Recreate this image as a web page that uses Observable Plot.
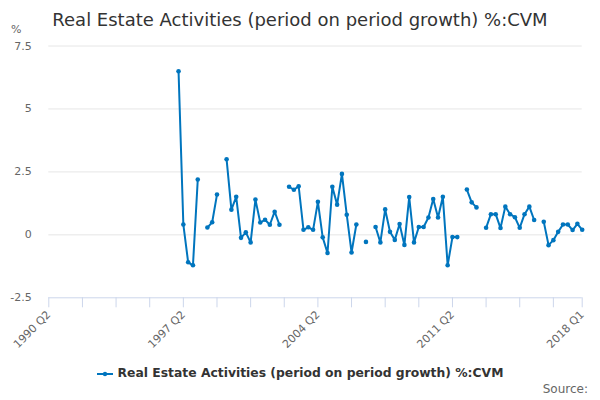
<!DOCTYPE html>
<html><head><meta charset="utf-8">
<script src="https://cdn.jsdelivr.net/npm/d3@7"></script>
<script src="https://cdn.jsdelivr.net/npm/@observablehq/plot@0.6"></script>
<style>
body{margin:0;background:#fff;font-family:"DejaVu Sans",sans-serif;}
#wrap{position:relative;width:600px;height:400px;overflow:hidden;background:#fff;}
#title{position:absolute;left:0;top:9px;width:600px;text-align:center;font-size:18px;line-height:22px;color:#333;white-space:nowrap;}
#unit{position:absolute;left:11px;top:23px;font-size:11px;line-height:13px;color:#666;}
#chart{position:absolute;left:0;top:0;}
#legend{position:absolute;left:0;top:366px;width:600px;display:flex;justify-content:center;align-items:center;font-size:12.35px;font-weight:bold;color:#333;line-height:15px;white-space:nowrap;}
#legend svg{margin-right:5px;}
#source{position:absolute;right:12px;top:382px;font-size:12px;line-height:15px;color:#666;}
</style></head>
<body>
<div id="wrap">
  <div id="chart"></div>
  <div id="title"></div>
  <div id="unit"></div>
  <div id="legend"></div>
  <div id="source"></div>
</div>
<script>
const titleText = "Real Estate Activities (period on period growth) %:CVM";
const seriesName = "Real Estate Activities (period on period growth) %:CVM";
const unitLabel = "%";
const sourceText = "Source:";
const lineColor = "#0075be";

// categories: quarters 1990 Q2 .. 2018 Q1
const firstYear = 1990, firstQuarter = 2, quarterCount = 112;
const quarters = [];
for (let i = 0; i < quarterCount; i++) {
  const q = firstQuarter - 1 + i;
  quarters.push(`${firstYear + Math.floor(q / 4)} Q${(q % 4) + 1}`);
}

// series values, 1997 Q1 .. 2018 Q1 (null = missing)
const seriesStart = "1997 Q1";
const values = [
  6.5, 0.41, -1.09, -1.21,   // 1997
  2.2, null, 0.29, 0.5,      // 1998
  1.6, null, 3.0, 1.0,       // 1999
  1.51, -0.12, 0.1, -0.3,    // 2000
  1.4, 0.49, 0.6, 0.4,       // 2001
  0.92, 0.4, null, 1.91,     // 2002
  1.79, 1.93, 0.2, 0.3,      // 2003
  0.2, 1.31, -0.1, -0.72,    // 2004
  1.91, 1.2, 2.42, 0.8,      // 2005
  -0.7, 0.41, null, -0.28,   // 2006
  null, 0.31, -0.3, 1.01,    // 2007
  0.12, -0.2, 0.43, -0.4,    // 2008
  1.5, -0.3, 0.31, 0.31,     // 2009
  0.69, 1.42, 0.69, 1.51,    // 2010
  -1.21, -0.09, -0.09, null, // 2011
  1.8, 1.29, 1.09, null,     // 2012
  0.28, 0.82, 0.82, 0.27,    // 2013
  1.12, 0.82, 0.7, 0.28,     // 2014
  0.82, 1.12, 0.59, null,    // 2015
  0.52, -0.41, -0.21, 0.12,  // 2016
  0.41, 0.41, 0.19, 0.44,    // 2017
  0.2                        // 2018
];

// tick labels
const xTickLabels = ["1990 Q2", "1997 Q2", "2004 Q2", "2011 Q2", "2018 Q1"];
const xTickStep = 7;
const yTicks = [-2.5, 0, 2.5, 5, 7.5];

const startIdx = quarters.indexOf(seriesStart);
const data = values.map((v, i) => ({x: startIdx + i, quarter: quarters[startIdx + i], value: v}));
const tickIdx = [];
for (let i = 0; i < quarterCount; i += xTickStep) tickIdx.push(i);
tickIdx.push(quarterCount - 1);
const labelIdx = xTickLabels.map(l => quarters.indexOf(l));

const plot = Plot.plot({
  width: 600,
  height: 352,
  marginTop: 45.5,
  marginBottom: 54.7,
  marginLeft: 48.3,
  marginRight: 18.3,
  style: {fontFamily: "DejaVu Sans, sans-serif", fontSize: "11px", background: "transparent", overflow: "visible"},
  x: {domain: [0, quarterCount - 1]},
  y: {domain: [yTicks[0], yTicks[yTicks.length - 1]]},
  marks: [
    Plot.gridY(yTicks.filter(d => d !== yTicks[0]), {stroke: "#e6e6e6", strokeOpacity: 1}),
    Plot.ruleY([yTicks[0]], {stroke: "#ccd6eb", strokeWidth: 1}),
    Plot.axisY({ticks: yTicks, tickSize: 0, tickPadding: 17, tickFormat: d => String(d), label: null, fill: "#666"}),
    Plot.axisX({ticks: tickIdx, tickSize: 10, stroke: "#ccd6eb", strokeOpacity: 1, tickFormat: () => "", label: null}),
    Plot.axisX({ticks: labelIdx, tickSize: 0, tickPadding: 15, tickRotate: -45, tickFormat: i => quarters[i], label: null, fill: "#666"}),
    Plot.line(data, {x: "x", y: "value", stroke: lineColor, strokeWidth: 2}),
    Plot.dot(data, {x: "x", y: "value", r: 2.3, fill: lineColor, stroke: null})
  ]
});
document.getElementById("chart").appendChild(plot);
document.getElementById("title").textContent = titleText;
document.getElementById("unit").textContent = unitLabel;
document.getElementById("source").textContent = sourceText;

const leg = document.getElementById("legend");
const ns = "http://www.w3.org/2000/svg";
const sym = document.createElementNS(ns, "svg");
sym.setAttribute("width", "16"); sym.setAttribute("height", "10");
const ln = document.createElementNS(ns, "line");
ln.setAttribute("x1", "0"); ln.setAttribute("x2", "16"); ln.setAttribute("y1", "5"); ln.setAttribute("y2", "5");
ln.setAttribute("stroke", lineColor); ln.setAttribute("stroke-width", "2");
const cc = document.createElementNS(ns, "circle");
cc.setAttribute("cx", "8"); cc.setAttribute("cy", "5"); cc.setAttribute("r", "2.2"); cc.setAttribute("fill", lineColor);
sym.appendChild(ln); sym.appendChild(cc);
const span = document.createElement("span");
span.textContent = seriesName;
leg.appendChild(sym); leg.appendChild(span);
</script>
</body></html>
